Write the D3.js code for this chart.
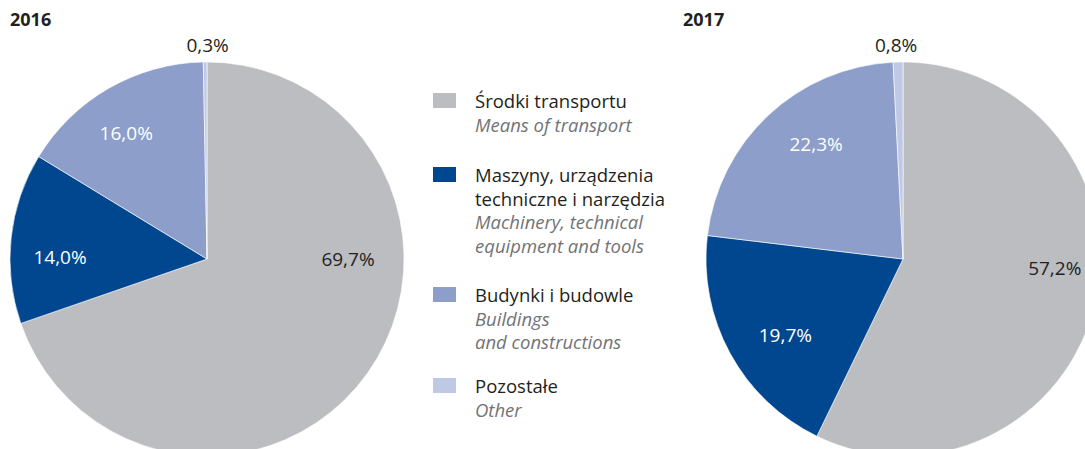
<!DOCTYPE html>
<html>
<head>
<meta charset="utf-8">
<script src="https://cdn.jsdelivr.net/npm/d3@7"></script>
<style>
  body { margin: 0; background: #fff; }
  svg { display: block; font-family: "Open Sans", sans-serif; }
</style>
</head>
<body>
<svg id="chart" width="1085" height="449"></svg>
<script>
// categories, polish + english (lines as drawn in the legend)
var categoriesPl = [
  ["Środki transportu"],
  ["Maszyny, urządzenia", "techniczne i narzędzia"],
  ["Budynki i budowle"],
  ["Pozostałe"]
];
var categoriesEn = [
  ["Means of transport"],
  ["Machinery, technical", "equipment and tools"],
  ["Buildings", "and constructions"],
  ["Other"]
];
var years      = ["2016", "2017"];
var values2016 = [69.7, 14.0, 16.0, 0.3];
var values2017 = [57.2, 19.7, 22.3, 0.8];
var colors     = ["#bcbdc0", "#00478f", "#8c9ec9", "#c0c9e3"];

// label placement: angle nudge (deg) from slice middle, and radius
var nudge2016  = [-35.5, -5.3, -2.7, 0.7];
var radius2016 = [141, 147, 150, 214];
var nudge2017  = [-9.6, -4.2, 5.9, -0.4];
var radius2017 = [152, 140, 144, 214];

var svg = d3.select("#chart");
var R = 197;

var pie = d3.pie().sort(null).value(function(d){ return d; });
var arc = d3.arc().innerRadius(0).outerRadius(R);

function fmt(v){ return v.toFixed(1).replace(".", ",") + "%"; }

// draw one pie with its title
function drawPie(values, year, cx, cy, titleX, nudge, radius){
  svg.append("text")
     .attr("x", titleX).attr("y", 26)
     .attr("font-size", 18).attr("font-weight", "bold")
     .attr("fill", "#231f20")
     .text(year);

  let g = svg.append("g").attr("transform", "translate(" + cx + "," + cy + ")");
  let arcs = pie(values);

  g.selectAll("path").data(arcs).enter()
   .append("path")
   .attr("d", arc)
   .attr("fill", function(d, i){ return colors[i]; })
   .attr("stroke", "#fff")
   .attr("stroke-width", 0.6);

  // big slice and tiny slice labels are dark, the rest white
  g.selectAll("text.lbl").data(arcs).enter()
   .append("text")
   .attr("class", "lbl")
   .attr("text-anchor", "middle")
   .attr("font-size", 19)
   .attr("fill", function(d){ return (d.value > 50 || d.value < 2) ? "#231f20" : "#fff"; })
   .attr("transform", function(d, i){
      let a = (d.startAngle + d.endAngle) / 2 + nudge[i] * Math.PI / 180;
      let x = Math.sin(a) * radius[i], y = -Math.cos(a) * radius[i];
      return "translate(" + x + "," + (y + 7) + ")";
   })
   .text(function(d){ return fmt(d.value); });
}

drawPie(values2016, years[0], 207, 259, 10, nudge2016, radius2016);
drawPie(values2017, years[1], 903, 259, 683, nudge2017, radius2017);

// legend
var legendTop = [93, 167, 287, 378];
var legend = svg.append("g");
categoriesPl.forEach(function(pl, i){
  let item = legend.append("g").attr("transform", "translate(0," + legendTop[i] + ")");
  item.append("rect")
      .attr("x", 433).attr("y", 0)
      .attr("width", 23).attr("height", 15)
      .attr("fill", colors[i]);
  let lines = pl.map(function(t){ return {t: t, it: false}; })
                .concat(categoriesEn[i].map(function(t){ return {t: t, it: true}; }));
  item.selectAll("text").data(lines).enter()
      .append("text")
      .attr("x", 475)
      .attr("y", function(d, j){ return 15 + j * 23.5; })
      .attr("font-size", 18.5)
      .attr("font-style", function(d){ return d.it ? "italic" : "normal"; })
      .attr("fill", function(d){ return d.it ? "#727376" : "#231f20"; })
      .text(function(d){ return d.t; });
});
</script>
</body>
</html>
